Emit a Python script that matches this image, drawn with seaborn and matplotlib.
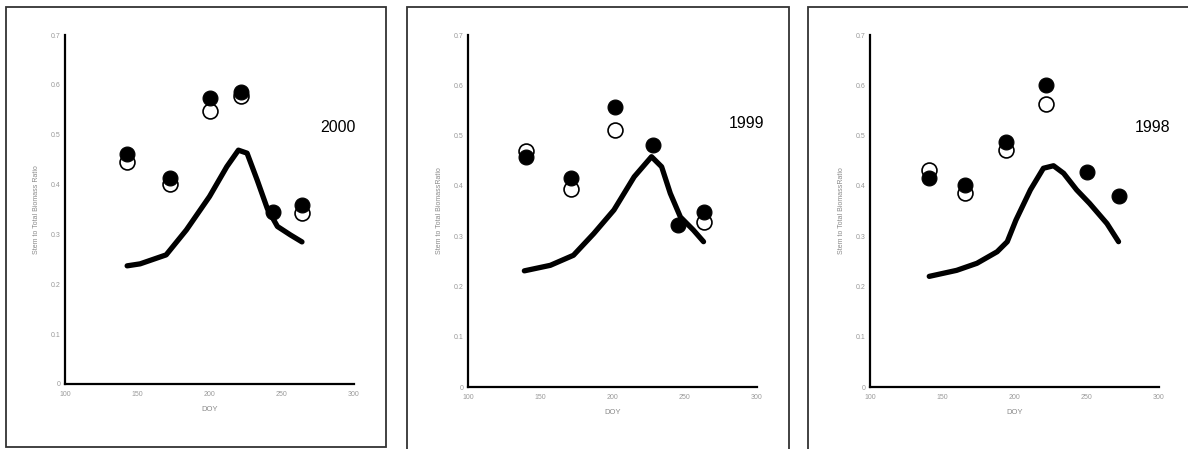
"""Stem to total biomass ratio vs DOY, three seasons (2000, 1999, 1998)."""
import matplotlib
matplotlib.use('Agg')
import matplotlib.pyplot as plt
import seaborn as sns
import pandas as pd
from matplotlib.patches import Rectangle

# ============== data ==============
years = ['2000', '1999', '1998']
ylabels = ['Stem to Total Biomass Ratio',
           'Stem to Total BiomassRatio',
           'Stem to Total BiomassRatio']

# measured points: filled (solid) and open circles
doy_pts = {
    '2000': [143, 173, 200, 222, 244, 264],
    '1999': [140, 171, 202, 228, 245, 263],
    '1998': [141, 166, 194, 222, 250, 272],
}
filled_vals = {
    '2000': [0.461, 0.414, 0.574, 0.585, 0.345, 0.360],
    '1999': [0.458, 0.415, 0.557, 0.482, 0.322, 0.348],
    '1998': [0.415, 0.401, 0.488, 0.600, 0.428, 0.380],
}
open_doy = {
    '2000': [143, 173, 200, 222, 264],
    '1999': [140, 171, 202, 263],
    '1998': [141, 166, 194, 222],
}
open_vals = {
    '2000': [0.445, 0.401, 0.548, 0.577, 0.343],
    '1999': [0.470, 0.393, 0.511, 0.328],
    '1998': [0.431, 0.385, 0.472, 0.563],
}

# modelled curve
doy_line = {
    '2000': [143, 152, 170, 184, 200, 212, 220, 226, 233, 240, 247, 256, 264],
    '1999': [139, 157, 173, 187, 201, 215, 227, 234, 240, 247, 256, 263],
    '1998': [141, 160, 174, 188, 195, 201, 211, 220, 227, 234, 243, 252, 264, 272],
}
model_vals = {
    '2000': [0.237, 0.241, 0.259, 0.309, 0.376, 0.436, 0.469, 0.463, 0.409,
             0.352, 0.316, 0.299, 0.285],
    '1999': [0.231, 0.242, 0.262, 0.305, 0.352, 0.418, 0.458, 0.438, 0.385,
             0.338, 0.312, 0.289],
    '1998': [0.220, 0.232, 0.246, 0.269, 0.289, 0.332, 0.392, 0.435, 0.440,
             0.425, 0.392, 0.365, 0.325, 0.289],
}

xticks = [100, 150, 200, 250, 300]
yticks = [0, 0.1, 0.2, 0.3, 0.4, 0.5, 0.6, 0.7]
ytick_labels = ['0', '0.1', '0.2', '0.3', '0.4', '0.5', '0.6', '0.7']

# ============== layout ==============
sns.set_style('white')
plt.rcParams['font.family'] = ['Liberation Sans', 'DejaVu Sans']

W, H = 1188, 449
fig = plt.figure(figsize=(W / 100, H / 100), dpi=100)

# panel frames (pixel coords: x0, y0_top, x1, y1_bottom)
frames = [(6, 7, 386, 447), (407, 7, 789, 452), (808, 7, 1195, 452)]
for x0, y0, x1, y1 in frames:
    fig.patches.append(Rectangle((x0 / W, 1 - y1 / H), (x1 - x0) / W, (y1 - y0) / H,
                                 transform=fig.transFigure, fill=False,
                                 edgecolor='#333333', linewidth=1.3))

# axes boxes (pixel coords: left, right, bottom, top)
boxes = [(65, 354, 384, 35), (468, 757, 387, 35), (870, 1159, 387, 35)]
year_pos = [(338, 127), (747, 123), (1153, 127)]

for yr, ylab, (l, r, b, t), (tx, ty) in zip(years, ylabels, boxes, year_pos):
    ax = fig.add_axes([l / W, 1 - b / H, (r - l) / W, (b - t) / H])

    df_line = pd.DataFrame({'DOY': doy_line[yr], 'ratio': model_vals[yr]})
    df_open = pd.DataFrame({'DOY': open_doy[yr], 'ratio': open_vals[yr]})
    df_fill = pd.DataFrame({'DOY': doy_pts[yr], 'ratio': filled_vals[yr]})

    sns.lineplot(data=df_line, x='DOY', y='ratio', ax=ax, color='black',
                 linewidth=3.8, sort=False, zorder=2,
                 solid_joinstyle='round', solid_capstyle='round')
    sns.scatterplot(data=df_open, x='DOY', y='ratio', ax=ax, s=115,
                    facecolor='white', edgecolor='black', linewidth=1.2, zorder=3)
    sns.scatterplot(data=df_fill, x='DOY', y='ratio', ax=ax, s=115,
                    color='black', edgecolor='black', linewidth=0.8, zorder=4)

    ax.set_xlim(100, 300)
    ax.set_ylim(0, 0.7)
    ax.set_xticks(xticks)
    ax.set_xticklabels([str(v) for v in xticks])
    ax.set_yticks(yticks)
    ax.set_yticklabels(ytick_labels)
    ax.tick_params(axis='both', labelsize=5, labelcolor='#9a9a9a', colors='black',
                   length=2, width=1, direction='out', pad=3)
    ax.tick_params(axis='y', length=0)
    ax.set_xlabel('DOY', fontsize=5.5, color='#8a8a8a', labelpad=6)
    ax.set_ylabel(ylab, fontsize=5, color='#8a8a8a', labelpad=8)

    for side in ['top', 'right']:
        ax.spines[side].set_visible(False)
    for side in ['left', 'bottom']:
        ax.spines[side].set_color('black')
        ax.spines[side].set_linewidth(1.6)

    fig.text(tx / W, 1 - ty / H, yr, fontsize=11.5, ha='center', va='center',
             color='black')

plt.savefig('out.png', dpi=100)
plt.close()
